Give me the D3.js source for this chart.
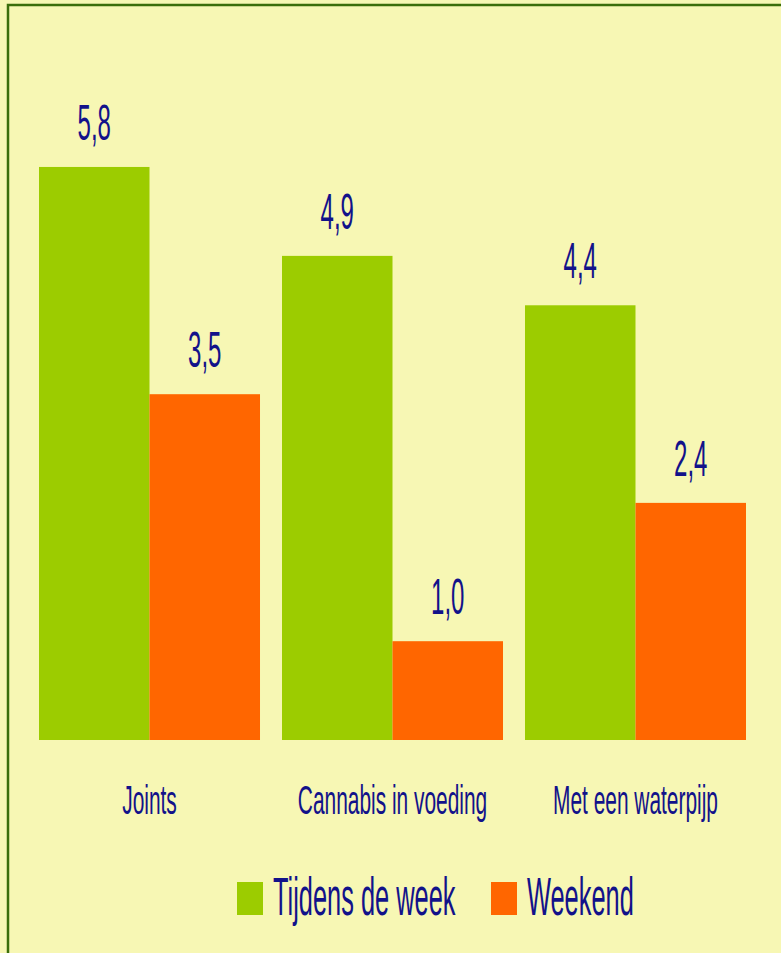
<!DOCTYPE html>
<html>
<head>
<meta charset="utf-8">
<script src="https://cdn.jsdelivr.net/npm/d3@7"></script>
<style>
  html, body { margin: 0; padding: 0; background: #f7f7b4; }
  svg { display: block; }
  text { font-family: "Liberation Sans Narrow", "Liberation Sans", sans-serif; fill: #12128a; }
</style>
</head>
<body>
<div id="chart"></div>
<script>
var categories = ["Joints", "Cannabis in voeding", "Met een waterpijp"];
var seriesNames = ["Tijdens de week", "Weekend"];
var weekValues = [5.8, 4.9, 4.4];
var weekendValues = [3.5, 1.0, 2.4];
var colors = ["#9ccc00", "#ff6600"];

var W = 781, H = 953;

var svg = d3.select("#chart").append("svg")
    .attr("width", W)
    .attr("height", H);

svg.append("rect")
    .attr("width", W).attr("height", H)
    .attr("fill", "#f7f7b4");

// frame, only top and left edges are visible in the picture
svg.append("rect")
    .attr("x", 8).attr("y", 5)
    .attr("width", W + 20).attr("height", H + 20)
    .attr("fill", "none")
    .attr("stroke", "#3a6e0a")
    .attr("stroke-width", 2.5);

var x0 = d3.scaleBand()
    .domain(categories)
    .range([28, 757])
    .paddingInner(0.0905)
    .paddingOuter(0.04527);

var x1 = d3.scaleBand()
    .domain(seriesNames)
    .range([0, x0.bandwidth()]);

var y = d3.scaleLinear()
    .domain([0, 6])
    .range([740, 740 - 6 * 98.8]);

var rows = categories.map(function(c, i){
  return { cat: c, values: [
    { name: seriesNames[0], v: weekValues[i] },
    { name: seriesNames[1], v: weekendValues[i] }
  ]};
});

var fmt = function(v){ return d3.format(".1f")(v).replace(".", ","); };

// the original font is very condensed, so squeeze text horizontally
function label(g, x, yy, size, sx, txt, anchor){
  g.append("g")
    .attr("transform", "translate(" + x + "," + yy + ") scale(" + sx + ",1)")
    .append("text")
    .attr("text-anchor", anchor || "middle")
    .attr("font-size", size)
    .text(txt);
}

var groups = svg.selectAll("g.grp")
    .data(rows)
    .enter().append("g")
    .attr("class", "grp")
    .attr("transform", function(d){ return "translate(" + x0(d.cat) + ",0)"; });

groups.selectAll("rect")
    .data(function(d){ return d.values; })
    .enter().append("rect")
    .attr("x", function(d){ return x1(d.name); })
    .attr("y", function(d){ return y(d.v); })
    .attr("width", x1.bandwidth())
    .attr("height", function(d){ return y(0) - y(d.v); })
    .attr("fill", function(d, i){ return colors[i]; });

groups.each(function(d){
  var g = d3.select(this);
  d.values.forEach(function(s){
    label(g, x1(s.name) + x1.bandwidth() / 2, y(s.v) - 27, 50, 0.48, fmt(s.v));
  });
  label(g, x0.bandwidth() / 2, 814, 41, 0.51, d.cat);
});

// legend
var legendX = [237, 491];
var leg = svg.append("g");
seriesNames.forEach(function(n, i){
  leg.append("rect")
    .attr("x", legendX[i]).attr("y", 882)
    .attr("width", 26).attr("height", 33)
    .attr("fill", colors[i]);
  label(leg, legendX[i] + 36, 915, 54, 0.47, n, "start");
});
</script>
</body>
</html>
